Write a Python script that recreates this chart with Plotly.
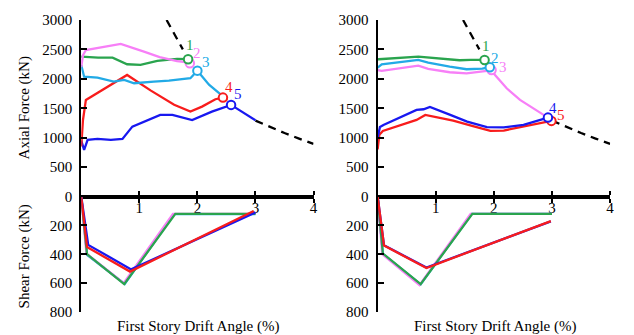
import plotly.graph_objects as go

# ---------------- data ----------------
# Dashed capacity curve (shared), None = hidden part
CAP_X = [1.47, 1.60, 1.75, None, 3.0, 3.25, 3.5, 3.75, 4.0]
CAP_Y = [3000, 2770, 2500, None, 1290, 1180, 1080, 985, 895]

# Left panel - axial force
L_AX_GREEN_X = [0, 0.29, 0.54, 0.62, 0.79, 1.02, 1.31, 1.65, 1.84]
L_AX_GREEN_Y = [2377, 2360, 2360, 2321, 2248, 2236, 2304, 2340, 2333]
L_AX_MAGENTA_X = [0, 0.03, 0.08, 0.45, 0.68, 1.08, 1.35, 1.65, 1.80, 1.87]
L_AX_MAGENTA_Y = [2200, 2400, 2490, 2560, 2593, 2462, 2370, 2300, 2285, 2264]
L_AX_CYAN_X = [0, 0.05, 0.28, 0.56, 0.74, 0.91, 1.25, 1.51, 1.88, 1.94, 2.0, 2.2, 2.42]
L_AX_CYAN_Y = [2236, 2037, 2020, 1953, 1981, 1925, 1953, 1970, 2010, 2066, 2139, 1900, 1720]
L_AX_RED_X = [0, 0.03, 0.08, 0.79, 1.2, 1.6, 1.88, 2.08, 2.31, 2.44, 2.51]
L_AX_RED_Y = [850, 1300, 1642, 2066, 1800, 1560, 1443, 1528, 1653, 1681, 1630]
L_AX_BLUE_X = [0, 0.05, 0.11, 0.28, 0.51, 0.71, 0.88, 1.08, 1.36, 1.57, 1.91, 2.25, 2.58, 3.0]
L_AX_BLUE_Y = [950, 793, 963, 980, 963, 980, 1188, 1273, 1387, 1387, 1300, 1443, 1557, 1295]
L_MARK_X = {"green": 1.84, "magenta": 1.87, "cyan": 2.0, "red": 2.44, "blue": 2.58}
L_MARK_Y = {"green": 2333, "magenta": 2264, "cyan": 2139, "red": 1681, "blue": 1557}
L_LABELS = ["1", "2", "3", "4", "5"]
L_LABEL_SERIES = ["green", "magenta", "cyan", "red", "blue"]
L_LABEL_X = [1.87, 2.0, 2.14, 2.54, 2.70]
L_LABEL_Y = [2571, 2434, 2282, 1868, 1744]

# Left panel - shear force
L_SH_GREEN_X = [0, 0.10, 0.74, 1.62, 3.0]
L_SH_GREEN_Y = [0, 400, 607, 120, 120]
L_SH_MAGENTA_X = [0, 0.09, 0.73, 1.58, 3.0]
L_SH_MAGENTA_Y = [0, 395, 600, 120, 120]
L_SH_CYAN_X = [0, 0.10, 0.75, 1.60, 3.0]
L_SH_CYAN_Y = [0, 405, 605, 122, 122]
L_SH_BLUE_X = [0, 0.12, 0.86, 3.0]
L_SH_BLUE_Y = [0, 335, 505, 110]
L_SH_RED_X = [0, 0.10, 0.84, 2.97]
L_SH_RED_Y = [0, 350, 520, 100]

# Right panel - axial force
R_AX_GREEN_X = [0, 0.02, 0.70, 1.07, 1.41, 1.6, 1.84]
R_AX_GREEN_Y = [2330, 2333, 2377, 2349, 2316, 2321, 2321]
R_AX_CYAN_X = [0, 0.07, 0.70, 0.87, 1.24, 1.53, 1.8, 1.93]
R_AX_CYAN_Y = [2190, 2248, 2321, 2275, 2207, 2163, 2175, 2197]
R_AX_MAGENTA_X = [0, 0.07, 0.70, 0.87, 1.24, 1.53, 1.88, 1.96, 2.02, 2.22, 2.45, 2.68, 2.93]
R_AX_MAGENTA_Y = [2150, 2134, 2224, 2168, 2112, 2094, 2134, 2150, 2066, 1840, 1642, 1500, 1341]
R_AX_BLUE_X = [0, 0.04, 0.10, 0.67, 0.79, 0.90, 1.25, 1.54, 1.88, 2.17, 2.51, 2.93]
R_AX_BLUE_Y = [1000, 1180, 1217, 1472, 1483, 1523, 1387, 1273, 1180, 1175, 1217, 1341]
R_AX_RED_X = [0, 0.03, 0.09, 0.67, 0.82, 1.3, 1.64, 1.94, 2.17, 2.51, 2.99]
R_AX_RED_Y = [800, 1050, 1115, 1302, 1387, 1290, 1195, 1115, 1121, 1189, 1285]
R_MARK_X = {"green": 1.84, "magenta": 1.96, "cyan": 1.93, "red": 2.99, "blue": 2.93}
R_MARK_Y = {"green": 2321, "magenta": 2150, "cyan": 2197, "red": 1285, "blue": 1341}
R_LABELS = ["1", "2", "3", "4", "5"]
R_LABEL_SERIES = ["green", "cyan", "magenta", "blue", "red"]
R_LABEL_X = [1.87, 2.02, 2.15, 3.01, 3.15]
R_LABEL_Y = [2564, 2360, 2207, 1511, 1387]

# Right panel - shear force
R_SH_GREEN_X = [0, 0.09, 0.74, 1.63, 3.0]
R_SH_GREEN_Y = [0, 395, 607, 120, 120]
R_SH_MAGENTA_X = [0, 0.08, 0.72, 1.60, 3.0]
R_SH_MAGENTA_Y = [0, 400, 614, 120, 120]
R_SH_CYAN_X = [0, 0.09, 0.74, 1.62, 3.0]
R_SH_CYAN_Y = [0, 398, 608, 120, 120]
R_SH_BLUE_X = [0, 0.11, 0.84, 2.98]
R_SH_BLUE_Y = [0, 338, 492, 172]
R_SH_RED_X = [0, 0.11, 0.84, 2.98]
R_SH_RED_Y = [0, 340, 495, 170]

X_TICKS = [1, 2, 3, 4]
AX_TICKS = [0, 500, 1000, 1500, 2000, 2500, 3000]
SH_TICKS = [200, 400, 600, 800]

X_TITLE = "First Story Drift Angle (%)"
AX_TITLE = "Axial Force (kN)"
SH_TITLE = "Shear Force (kN)"

# ---------------- style ----------------
COL = {"green": "#2aa44e", "magenta": "#f77ff7", "cyan": "#22aae6",
       "red": "#f81c1c", "blue": "#1818f0"}
FONT = "Liberation Serif"
LW = 2.3

fig = go.Figure()


def line(x, y, c, xa, ya):
    fig.add_trace(go.Scatter(x=x, y=y, mode="lines", xaxis=xa, yaxis=ya,
                             line=dict(color=COL[c], width=LW), hoverinfo="skip"))


def marker(x, y, c, xa, ya):
    fig.add_trace(go.Scatter(x=[x], y=[y], mode="markers", xaxis=xa, yaxis=ya,
                             marker=dict(symbol="circle", size=8.5, color="white",
                                         line=dict(color=COL[c], width=2)),
                             cliponaxis=False, hoverinfo="skip"))


# Left upper (x, y)
fig.add_trace(go.Scatter(x=CAP_X, y=CAP_Y, mode="lines", xaxis="x", yaxis="y",
                         line=dict(color="black", width=2.3, dash="8px,6px")))
line(L_AX_BLUE_X, L_AX_BLUE_Y, "blue", "x", "y")
line(L_AX_RED_X, L_AX_RED_Y, "red", "x", "y")
line(L_AX_CYAN_X, L_AX_CYAN_Y, "cyan", "x", "y")
line(L_AX_GREEN_X, L_AX_GREEN_Y, "green", "x", "y")
line(L_AX_MAGENTA_X, L_AX_MAGENTA_Y, "magenta", "x", "y")
for c in ["magenta", "green", "cyan", "red", "blue"]:
    marker(L_MARK_X[c], L_MARK_Y[c], c, "x", "y")

# Left lower (x2, y2)
line(L_SH_CYAN_X, L_SH_CYAN_Y, "cyan", "x2", "y2")
line(L_SH_MAGENTA_X, L_SH_MAGENTA_Y, "magenta", "x2", "y2")
line(L_SH_GREEN_X, L_SH_GREEN_Y, "green", "x2", "y2")
line(L_SH_BLUE_X, L_SH_BLUE_Y, "blue", "x2", "y2")
line(L_SH_RED_X, L_SH_RED_Y, "red", "x2", "y2")

# Right upper (x3, y3)
fig.add_trace(go.Scatter(x=CAP_X, y=CAP_Y, mode="lines", xaxis="x3", yaxis="y3",
                         line=dict(color="black", width=2.3, dash="8px,6px")))
line(R_AX_RED_X, R_AX_RED_Y, "red", "x3", "y3")
line(R_AX_BLUE_X, R_AX_BLUE_Y, "blue", "x3", "y3")
line(R_AX_MAGENTA_X, R_AX_MAGENTA_Y, "magenta", "x3", "y3")
line(R_AX_CYAN_X, R_AX_CYAN_Y, "cyan", "x3", "y3")
line(R_AX_GREEN_X, R_AX_GREEN_Y, "green", "x3", "y3")
for c in ["magenta", "cyan", "green", "red", "blue"]:
    marker(R_MARK_X[c], R_MARK_Y[c], c, "x3", "y3")

# Right lower (x4, y4)
line(R_SH_CYAN_X, R_SH_CYAN_Y, "cyan", "x4", "y4")
line(R_SH_MAGENTA_X, R_SH_MAGENTA_Y, "magenta", "x4", "y4")
line(R_SH_GREEN_X, R_SH_GREEN_Y, "green", "x4", "y4")
line(R_SH_BLUE_X, R_SH_BLUE_Y, "blue", "x4", "y4")
line(R_SH_RED_X, R_SH_RED_Y, "red", "x4", "y4")

# ---------------- layout ----------------
# The page body adds an 8px offset; the figure is sized to fill the window.
OFF = 8
W, H = 634 - OFF, 335 - OFF
TOP, BOT = 20 - OFF, 312 - OFF        # plot area top / bottom in figure px
MT, MB = TOP, H - BOT
PH = BOT - TOP
SPLIT = 0.3955
LDOM = [(81.7 - OFF) / W, (315.5 - OFF) / W]
RDOM = [(380.0 - OFF) / W, (614.0 - OFF) / W]

tickfont = dict(family=FONT, size=15, color="black")
common_x = dict(range=[0, 4], tickvals=X_TICKS, showgrid=False, zeroline=False,
                showline=True, linecolor="black", linewidth=2, ticks="outside",
                ticklen=4, tickwidth=2, tickcolor="black", tickfont=tickfont)
common_y = dict(showgrid=False, zeroline=False, showline=True, linecolor="black",
                linewidth=2, ticks="inside", ticklen=6, tickwidth=2,
                tickcolor="black", tickfont=tickfont, ticklabelstandoff=4)

fig.update_layout(
    width=W, height=H, margin=dict(l=0, r=0, t=MT, b=MB),
    paper_bgcolor="white", plot_bgcolor="white", showlegend=False,
    font=dict(family=FONT, size=15, color="black"),
    xaxis=dict(domain=LDOM, anchor="y", side="bottom", ticklabelstandoff=-8, **common_x),
    xaxis2=dict(domain=LDOM, anchor="y2", side="top", matches="x", showticklabels=False, **common_x),
    xaxis3=dict(domain=RDOM, anchor="y3", side="bottom", ticklabelstandoff=-8, **common_x),
    xaxis4=dict(domain=RDOM, anchor="y4", side="top", matches="x3", showticklabels=False, **common_x),
    yaxis=dict(domain=[SPLIT, 1], anchor="x", range=[0, 3000], tickvals=AX_TICKS, **common_y),
    yaxis2=dict(domain=[0, SPLIT], anchor="x2", range=[800, 0], tickvals=SH_TICKS, **common_y),
    yaxis3=dict(domain=[SPLIT, 1], anchor="x3", range=[0, 3000], tickvals=AX_TICKS, **common_y),
    yaxis4=dict(domain=[0, SPLIT], anchor="x4", range=[800, 0], tickvals=SH_TICKS, **common_y),
)

ann = []
for t, s, x, y in zip(L_LABELS, L_LABEL_SERIES, L_LABEL_X, L_LABEL_Y):
    ann.append(dict(text=t, x=x, y=y, xref="x", yref="y", showarrow=False,
                    font=dict(family=FONT, size=15, color=COL[s])))
for t, s, x, y in zip(R_LABELS, R_LABEL_SERIES, R_LABEL_X, R_LABEL_Y):
    ann.append(dict(text=t, x=x, y=y, xref="x3", yref="y3", showarrow=False,
                    font=dict(family=FONT, size=15, color=COL[s])))


def py(screen_y):
    return (BOT - (screen_y - OFF)) / PH


def px(screen_x):
    return (screen_x - OFF) / W


ann.append(dict(text=AX_TITLE, x=px(25), y=py(107.5), xref="paper", yref="paper",
                textangle=-90, showarrow=False, xanchor="center", yanchor="middle",
                font=dict(family=FONT, size=15)))
ann.append(dict(text=SH_TITLE, x=px(25), y=py(256.5), xref="paper", yref="paper",
                textangle=-90, showarrow=False, xanchor="center", yanchor="middle",
                font=dict(family=FONT, size=15)))
ann.append(dict(text=X_TITLE, x=px(199.5), y=py(326), xref="paper", yref="paper",
                showarrow=False, xanchor="center", yanchor="middle",
                font=dict(family=FONT, size=15)))
ann.append(dict(text=X_TITLE, x=px(498.7), y=py(326), xref="paper", yref="paper",
                showarrow=False, xanchor="center", yanchor="middle",
                font=dict(family=FONT, size=15)))
fig.update_layout(annotations=ann)

fig.write_html("out.html")
